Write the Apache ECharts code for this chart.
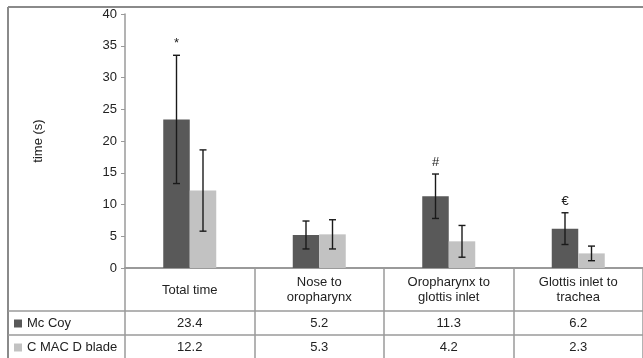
<!DOCTYPE html>
<html>
<head>
<meta charset="utf-8">
<script src="https://cdn.jsdelivr.net/npm/echarts@6/dist/echarts.min.js"></script>
<style>
  html, body { margin: 0; padding: 0; background: #fff; }
  #chart { width: 643px; height: 358px; }
</style>
</head>
<body>
<div id="chart"></div>
<script>
  // 数据
  const categories = ['Total time', 'Nose to\noropharynx', 'Oropharynx to\nglottis inlet', 'Glottis inlet to\ntrachea']
  const seriesNames = ['Mc Coy', 'C MAC D blade']
  const mcCoy = [23.4, 5.2, 11.3, 6.2]
  const cmac = [12.2, 5.3, 4.2, 2.3]
  const mcCoySd = [10.1, 2.2, 3.5, 2.5]
  const cmacSd = [6.4, 2.3, 2.5, 1.15]
  const mcCoyMarks = ['*', '', '#', '€']
  const cmacMarks = ['', '', '', '']
  const yTicks = [0, 5, 10, 15, 20, 25, 30, 35, 40]

  const darkColor = '#595959'
  const lightColor = '#c2c2c2'
  const lineGray = '#9a9a9a'
  const textColor = '#222'
  const font = 'Liberation Sans'
  const barW = 26.5

  const chart = echarts.init(document.getElementById('chart'))

  function errorData(means, sds, marks) {
    return means.map((m, i) => [i, m - sds[i], m + sds[i], marks[i]])
  }

  function errorSeries(means, sds, marks, shift) {
    return {
      type: 'custom',
      xAxisIndex: 0,
      yAxisIndex: 0,
      z: 10,
      silent: true,
      data: errorData(means, sds, marks),
      renderItem: function (params, api) {
        const low = api.coord([api.value(0), api.value(1)])
        const high = api.coord([api.value(0), api.value(2)])
        const x = low[0] + shift
        const cap = 3.5
        const style = { stroke: '#1a1a1a', lineWidth: 1.4 }
        const children = [
          { type: 'line', shape: { x1: x, y1: low[1], x2: x, y2: high[1] }, style: style },
          { type: 'line', shape: { x1: x - cap, y1: low[1], x2: x + cap, y2: low[1] }, style: style },
          { type: 'line', shape: { x1: x - cap, y1: high[1], x2: x + cap, y2: high[1] }, style: style },
        ]
        const mark = api.value(3)
        if (mark) {
          children.push({
            type: 'text',
            style: {
              text: mark, x: x, y: high[1] - 5,
              align: 'center', verticalAlign: 'bottom',
              fontFamily: font, fontSize: 13, fill: textColor,
            },
          })
        }
        return { type: 'group', children: children }
      },
    }
  }

  const rowAxis = (values, offset) => ({
    type: 'category',
    gridIndex: 0,
    position: 'bottom',
    offset: offset,
    data: categories,
    axisLine: { show: false },
    axisTick: { show: false },
    axisLabel: {
      margin: 0,
      verticalAlign: 'middle',
      fontFamily: font,
      fontSize: 13,
      color: textColor,
      formatter: (v, i) => values[i].toFixed(1),
    },
  })

  // 表格左侧的图例，每行一个
  const rowLegend = (name, top) => ({
    data: [name],
    left: 9,
    top: top,
    itemWidth: 8,
    itemHeight: 8,
    icon: 'rect',
    selectedMode: false,
    textStyle: { fontFamily: font, fontSize: 13, color: textColor },
  })

  const option = {
    animation: false,
    textStyle: { fontFamily: font },
    grid: { left: 125, top: 14, width: 525, height: 254 },
    legend: [rowLegend(seriesNames[0], 312), rowLegend(seriesNames[1], 336)],
    xAxis: [
      {
        type: 'category',
        data: categories,
        axisLine: { lineStyle: { color: lineGray, width: 2 } },
        axisTick: { show: true, length: 92, lineStyle: { color: lineGray, width: 1.5 } },
        axisLabel: {
          margin: 22,
          verticalAlign: 'middle',
          lineHeight: 15,
          fontFamily: font,
          fontSize: 13,
          color: textColor,
          interval: 0,
        },
      },
      rowAxis(mcCoy, 55),
      rowAxis(cmac, 79),
    ],
    yAxis: {
      type: 'value',
      min: 0,
      max: 40,
      interval: 5,
      name: 'time (s)',
      nameLocation: 'middle',
      nameGap: 80,
      nameTextStyle: { fontFamily: font, fontSize: 13, color: textColor },
      axisLine: { show: true, lineStyle: { color: lineGray, width: 1.5 } },
      axisTick: { show: true, length: 4, lineStyle: { color: lineGray } },
      splitLine: { show: false },
      axisLabel: {
        margin: 8,
        fontFamily: font,
        fontSize: 13,
        color: textColor,
        formatter: (v) => (yTicks.includes(v) ? String(v) : ''),
      },
    },
    graphic: [
      { type: 'line', shape: { x1: 8, y1: 7, x2: 643, y2: 7 }, style: { stroke: '#8a8a8a', lineWidth: 2 } },
      { type: 'line', shape: { x1: 8, y1: 7, x2: 8, y2: 358 }, style: { stroke: '#8a8a8a', lineWidth: 2 } },
      { type: 'line', shape: { x1: 8, y1: 311, x2: 643, y2: 311 }, style: { stroke: lineGray, lineWidth: 1.5 } },
      { type: 'line', shape: { x1: 8, y1: 335, x2: 643, y2: 335 }, style: { stroke: lineGray, lineWidth: 1.5 } },
    ],
    series: [
      {
        name: seriesNames[0],
        type: 'bar',
        data: mcCoy,
        barWidth: barW,
        barGap: '0%',
        itemStyle: { color: darkColor },
      },
      {
        name: seriesNames[1],
        type: 'bar',
        data: cmac,
        barWidth: barW,
        barGap: '0%',
        itemStyle: { color: lightColor },
      },
      errorSeries(mcCoy, mcCoySd, mcCoyMarks, -barW / 2),
      errorSeries(cmac, cmacSd, cmacMarks, barW / 2),
    ],
  }

  chart.setOption(option)
</script>
</body>
</html>
